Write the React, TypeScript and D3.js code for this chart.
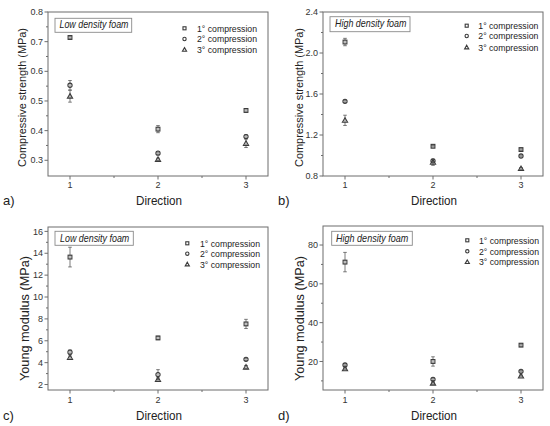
import * as d3 from 'd3';

const directions = [1, 2, 3];
const seriesLabels = ['1° compression', '2° compression', '3° compression'];

// a) compressive strength, low density foam
const strengthLow1 = [0.714, 0.405, 0.468];
const strengthLow2 = [0.553, 0.324, 0.38];
const strengthLow3 = [0.516, 0.303, 0.357];
const strengthLowErr1 = [0.005, 0.012, 0.006];
const strengthLowErr2 = [0.016, 0.004, 0.006];
const strengthLowErr3 = [0.02, 0.004, 0.014];

// b) compressive strength, high density foam
const strengthHigh1 = [2.107, 1.09, 1.058];
const strengthHigh2 = [1.529, 0.948, 0.995];
const strengthHigh3 = [1.343, 0.934, 0.872];
const strengthHighErr1 = [0.036, 0.008, 0.008];
const strengthHighErr2 = [0.01, 0.01, 0.01];
const strengthHighErr3 = [0.05, 0.03, 0.01];

// c) Young modulus, low density foam
const modulusLow1 = [13.65, 6.26, 7.54];
const modulusLow2 = [4.96, 2.91, 4.3];
const modulusLow3 = [4.46, 2.46, 3.59];
const modulusLowErr1 = [0.9, 0.15, 0.42];
const modulusLowErr2 = [0.2, 0.45, 0.1];
const modulusLowErr3 = [0.15, 0.15, 0.15];

// d) Young modulus, high density foam
const modulusHigh1 = [71.2, 20, 28.4];
const modulusHigh2 = [18.2, 10.8, 14.9];
const modulusHigh3 = [16.2, 8.8, 12.5];
const modulusHighErr1 = [5, 2.4, 0.6];
const modulusHighErr2 = [0.6, 0.6, 0.4];
const modulusHighErr3 = [0.5, 0.5, 0.5];

const ticksA = [0.3, 0.4, 0.5, 0.6, 0.7, 0.8];
const ticksB = [0.8, 1.2, 1.6, 2.0, 2.4];
const ticksC = [2, 4, 6, 8, 10, 12, 14, 16];
const ticksD = [20, 40, 60, 80];
const labelsA = ['0.3', '0.4', '0.5', '0.6', '0.7', '0.8'];
const labelsB = ['0.8', '1.2', '1.6', '2.0', '2.4'];
const labelsC = ['2', '4', '6', '8', '10', '12', '14', '16'];
const labelsD = ['20', '40', '60', '80'];

const FONT = '"Liberation Sans", Arial, sans-serif';
const FRAME = '#6d6d6d';
const MARK = '#3a3a3a';

type Panel = {
  letter: string;
  yTitle: string;
  inset: string;
  box: [number, number, number, number]; // left, right, top, bottom
  yDomain: [number, number];
  ticks: number[];
  tickLabels: string[];
  minor: number[];
  values: number[][];
  errors: number[][];
  legend: { mx: number; tx: number; rows: number[] };
  insetBox: { x0: number; x1: number; y0: number; y1: number; tx: number; ty: number; len: number };
  yTitlePos: { x: number; y: number; len: number; size: number };
  xTitleY: number;
  xTickY: number;
};

const mid = (t: number[]) => t.slice(1).map((v, i) => (v + t[i]) / 2);

const panels: Panel[] = [
  {
    letter: 'a)',
    yTitle: 'Compressive strength (MPa)',
    inset: 'Low density foam',
    box: [48, 268, 12, 176],
    yDomain: [0.247, 0.8],
    ticks: ticksA,
    tickLabels: labelsA,
    minor: mid(ticksA),
    values: [strengthLow1, strengthLow2, strengthLow3],
    errors: [strengthLowErr1, strengthLowErr2, strengthLowErr3],
    legend: { mx: 184.5, tx: 197, rows: [28.3, 39, 49.7] },
    insetBox: { x0: 55, x1: 131.7, y0: 18.3, y1: 32.3, tx: 59.5, ty: 28.3, len: 69 },
    yTitlePos: { x: 21.5, y: 97.5, len: 139, size: 11.8 },
    xTitleY: 205,
    xTickY: 187.5,
  },
  {
    letter: 'b)',
    yTitle: 'Compressive strength (MPa)',
    inset: 'High density foam',
    box: [323, 543, 12, 176],
    yDomain: [0.8, 2.4],
    ticks: ticksB,
    tickLabels: labelsB,
    minor: mid(ticksB),
    values: [strengthHigh1, strengthHigh2, strengthHigh3],
    errors: [strengthHighErr1, strengthHighErr2, strengthHighErr3],
    legend: { mx: 466.7, tx: 478.3, rows: [25.7, 36, 47.3] },
    insetBox: { x0: 330, x1: 410, y0: 16.7, y1: 31.7, tx: 335, ty: 27.3, len: 71.5 },
    yTitlePos: { x: 298.5, y: 97.5, len: 139, size: 11.8 },
    xTitleY: 205,
    xTickY: 187.5,
  },
  {
    letter: 'c)',
    yTitle: 'Young modulus (MPa)',
    inset: 'Low density foam',
    box: [48, 268, 227, 390],
    yDomain: [1.5, 16.4],
    ticks: ticksC,
    tickLabels: labelsC,
    minor: mid(ticksC),
    values: [modulusLow1, modulusLow2, modulusLow3],
    errors: [modulusLowErr1, modulusLowErr2, modulusLowErr3],
    legend: { mx: 187.3, tx: 200, rows: [243.3, 253.7, 264.3] },
    insetBox: { x0: 55, x1: 133.3, y0: 231.3, y1: 245.3, tx: 60, ty: 241.5, len: 69.3 },
    yTitlePos: { x: 24, y: 318.5, len: 125, size: 13 },
    xTitleY: 419.7,
    xTickY: 402.5,
  },
  {
    letter: 'd)',
    yTitle: 'Young modulus (MPa)',
    inset: 'High density foam',
    box: [323, 543, 226, 390],
    yDomain: [5.3, 89.8],
    ticks: ticksD,
    tickLabels: labelsD,
    minor: [10, 30, 50, 70],
    values: [modulusHigh1, modulusHigh2, modulusHigh3],
    errors: [modulusHighErr1, modulusHighErr2, modulusHighErr3],
    legend: { mx: 467.3, tx: 479, rows: [240.3, 251.3, 262] },
    insetBox: { x0: 331.7, x1: 412.3, y0: 231.3, y1: 245.3, tx: 336, ty: 241.5, len: 72.3 },
    yTitlePos: { x: 299.2, y: 318.5, len: 125, size: 13 },
    xTitleY: 419.7,
    xTickY: 402.5,
  },
];

function Marker({ kind, x, y, k = 1 }: { kind: number; x: number; y: number; k?: number }) {
  if (kind === 0) {
    const h = 1.9 * k;
    return <rect x={x - h} y={y - h} width={2 * h} height={2 * h} fill="none" stroke={MARK} strokeWidth={1.1} />;
  }
  if (kind === 1) {
    return <circle cx={x} cy={y} r={2.1 * k} fill="none" stroke={MARK} strokeWidth={1.1} />;
  }
  const s = 2.6 * k;
  const path = d3.path();
  path.moveTo(x, y - s);
  path.lineTo(x + s, y + s * 0.75);
  path.lineTo(x - s, y + s * 0.75);
  path.closePath();
  return <path d={path.toString()} fill="none" stroke={MARK} strokeWidth={1.1} />;
}

function ChartPanel({ p }: { p: Panel }) {
  const [l, r, t, b] = p.box;
  const x = d3.scaleLinear().domain([0.75, 3.25]).range([l, r]);
  const y = d3.scaleLinear().domain(p.yDomain).range([b, t]);

  return (
    <g fontFamily={FONT}>
      {/* error bars */}
      {p.values.map((vals, si) =>
        vals.map((v, i) => {
          const e = p.errors[si][i];
          const cx = x(directions[i]);
          const y0 = y(v - e);
          const y1 = y(v + e);
          return (
            <g key={`e${si}-${i}`} stroke="#5a5a5a" strokeWidth={0.8}>
              <line x1={cx} x2={cx} y1={y0} y2={y1} />
              <line x1={cx - 1.8} x2={cx + 1.8} y1={y0} y2={y0} />
              <line x1={cx - 1.8} x2={cx + 1.8} y1={y1} y2={y1} />
            </g>
          );
        })
      )}
      {/* markers */}
      {p.values.map((vals, si) =>
        vals.map((v, i) => <Marker key={`m${si}-${i}`} kind={si} x={x(directions[i])} y={y(v)} />)
      )}

      {/* frame */}
      <rect x={l} y={t} width={r - l} height={b - t} fill="none" stroke={FRAME} strokeWidth={1} />

      {/* y ticks */}
      {p.ticks.map((v, i) => (
        <g key={`yt${i}`}>
          <line x1={l - 3.5} x2={l} y1={y(v)} y2={y(v)} stroke={FRAME} />
          <text x={l - 5} y={y(v)} dy="0.35em" textAnchor="end" fontSize={9} fill="#333">
            {p.tickLabels[i]}
          </text>
        </g>
      ))}
      {p.minor.map((v, i) => (
        <line key={`ym${i}`} x1={l - 2} x2={l} y1={y(v)} y2={y(v)} stroke={FRAME} />
      ))}

      {/* x ticks */}
      {directions.map((d) => (
        <g key={`xt${d}`}>
          <line x1={x(d)} x2={x(d)} y1={b} y2={b + 3.5} stroke={FRAME} />
          <text x={x(d)} y={p.xTickY} textAnchor="middle" fontSize={9} fill="#333">
            {d}
          </text>
        </g>
      ))}
      {[1.5, 2.5].map((d) => (
        <line key={`xm${d}`} x1={x(d)} x2={x(d)} y1={b} y2={b + 2} stroke={FRAME} />
      ))}

      {/* axis titles */}
      <text
        x={(l + r) / 2 + 1}
        y={p.xTitleY}
        textAnchor="middle"
        fontSize={13}
        fill="#222"
        textLength={46}
        lengthAdjust="spacingAndGlyphs"
      >
        Direction
      </text>
      <text
        transform={`translate(${p.yTitlePos.x},${p.yTitlePos.y}) rotate(-90)`}
        dy="0.35em"
        textAnchor="middle"
        fontSize={p.yTitlePos.size}
        fill="#222"
        textLength={p.yTitlePos.len}
        lengthAdjust="spacingAndGlyphs"
      >
        {p.yTitle}
      </text>
      <text x={l - 45} y={p.xTitleY} fontSize={13} fill="#222">
        {p.letter}
      </text>

      {/* inset label */}
      <rect
        x={p.insetBox.x0}
        y={p.insetBox.y0}
        width={p.insetBox.x1 - p.insetBox.x0}
        height={p.insetBox.y1 - p.insetBox.y0}
        fill="#fff"
        stroke="#8a8a8a"
        strokeWidth={0.9}
      />
      <text
        x={p.insetBox.tx}
        y={p.insetBox.ty}
        fontSize={10.5}
        fontStyle="italic"
        fill="#222"
        textLength={p.insetBox.len}
        lengthAdjust="spacingAndGlyphs"
      >
        {p.inset}
      </text>

      {/* legend */}
      {seriesLabels.map((s, i) => (
        <g key={`lg${i}`}>
          <Marker kind={i} x={p.legend.mx} y={p.legend.rows[i]} k={0.8} />
          <text
            x={p.legend.tx}
            y={p.legend.rows[i]}
            dy="0.35em"
            fontSize={9.5}
            fill="#222"
            textLength={60}
            lengthAdjust="spacingAndGlyphs"
          >
            {s}
          </text>
        </g>
      ))}
    </g>
  );
}

export default function App() {
  return (
    <svg
      width={550}
      height={426}
      style={{ position: 'absolute', left: 0, top: 0, background: '#fff' }}
    >
      <rect width={550} height={426} fill="#fff" />
      {panels.map((p) => (
        <ChartPanel key={p.letter} p={p} />
      ))}
    </svg>
  );
}
